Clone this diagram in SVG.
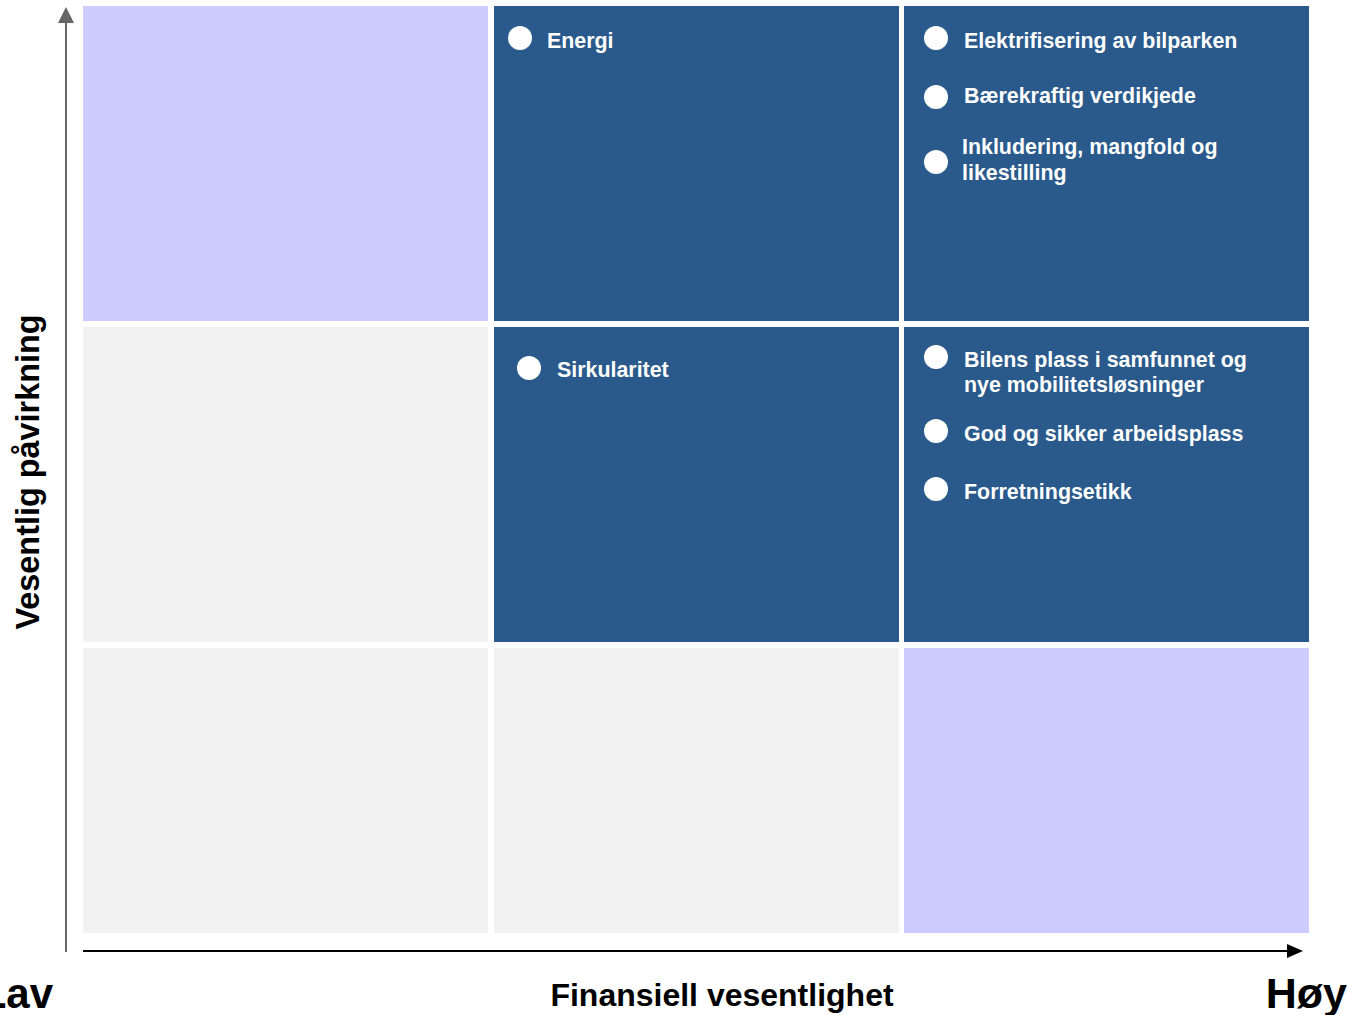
<svg xmlns="http://www.w3.org/2000/svg" width="1347" height="1015" viewBox="0 0 1347 1015">
<style>
.cell{stroke:none}
.hi{fill:#2A5A8B}
.mid{fill:#CCCCFF}
.lo{fill:#F2F2F2}
.dot{fill:#FFFFFF}
.lbl{font-family:"Liberation Sans",Arial,sans-serif;font-weight:bold;font-size:21.4px;fill:#FFFFFF}
.ax{font-family:"Liberation Sans",Arial,sans-serif;font-weight:bold;fill:#000000}
</style>
<rect width="1347" height="1015" fill="#FFFFFF"/>
<g id="cells">
<rect id="c11" class="cell mid" x="83" y="6" width="405" height="315"/>
<rect id="c12" class="cell hi" x="494" y="6" width="405" height="315"/>
<rect id="c13" class="cell hi" x="904" y="6" width="405" height="315"/>
<rect id="c21" class="cell lo" x="83" y="327" width="405" height="315"/>
<rect id="c22" class="cell hi" x="494" y="327" width="405" height="315"/>
<rect id="c23" class="cell hi" x="904" y="327" width="405" height="315"/>
<rect id="c31" class="cell lo" x="83" y="648" width="405" height="285"/>
<rect id="c32" class="cell lo" x="494" y="648" width="405" height="285"/>
<rect id="c33" class="cell mid" x="904" y="648" width="405" height="285"/>
</g>
<g id="items">
<g id="energi"><circle class="dot" cx="520" cy="38" r="12"/><text class="lbl" x="547" y="48">Energi</text></g>
<g id="elektrifisering"><circle class="dot" cx="936" cy="38" r="12"/><text class="lbl" x="964" y="48">Elektrifisering av bilparken</text></g>
<g id="baerekraftig"><circle class="dot" cx="936" cy="97" r="12"/><text class="lbl" x="964" y="103">Bærekraftig verdikjede</text></g>
<g id="inkludering"><circle class="dot" cx="936" cy="162" r="12"/><text class="lbl" x="962" y="154">Inkludering, mangfold og</text><text class="lbl" x="962" y="180">likestilling</text></g>
<g id="sirkularitet"><circle class="dot" cx="529" cy="368" r="12"/><text class="lbl" x="557" y="377">Sirkularitet</text></g>
<g id="bilens"><circle class="dot" cx="936" cy="357" r="12"/><text class="lbl" x="964" y="367">Bilens plass i samfunnet og</text><text class="lbl" x="964" y="392">nye mobilitetsløsninger</text></g>
<g id="god"><circle class="dot" cx="936" cy="431" r="12"/><text class="lbl" x="964" y="441">God og sikker arbeidsplass</text></g>
<g id="forretning"><circle class="dot" cx="936" cy="489" r="12"/><text class="lbl" x="964" y="499">Forretningsetikk</text></g>
</g>
<g id="connectors">
<line x1="66" y1="952" x2="66" y2="20" stroke="#666666" stroke-width="2"/>
<polygon points="66,7 58,23 74,23" fill="#666666"/>
<line x1="83" y1="951" x2="1290" y2="951" stroke="#000000" stroke-width="2"/>
<polygon points="1303,951 1287,944 1287,958" fill="#000000"/>
</g>
<g id="labels">
<text class="ax" x="53" y="1008" font-size="42" text-anchor="end">Lav</text>
<text class="ax" x="1347" y="1008" font-size="43" text-anchor="end">Høy</text>
<text class="ax" x="722" y="1006" font-size="32" text-anchor="middle">Finansiell vesentlighet</text>
<text class="ax" transform="translate(39,472) rotate(-90)" font-size="32.4" text-anchor="middle">Vesentlig påvirkning</text>
</g>
</svg>
